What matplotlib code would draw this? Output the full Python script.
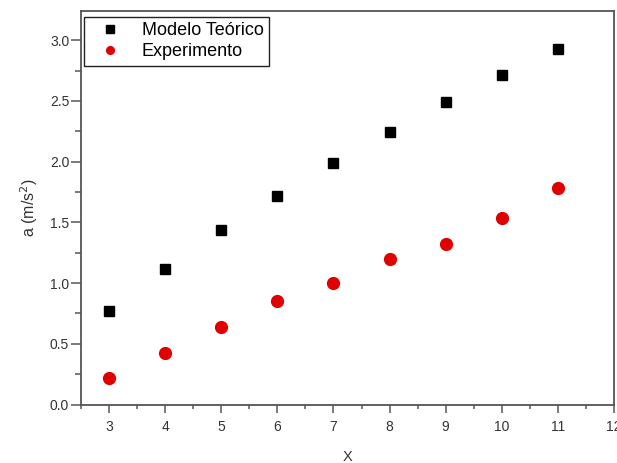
import matplotlib
matplotlib.use("Agg")
import matplotlib.pyplot as plt
from matplotlib.ticker import MultipleLocator

plt.rcParams['font.family'] = ['Liberation Sans', 'DejaVu Sans']

# data
x_vals = [3, 4, 5, 6, 7, 8, 9, 10, 11]
modelo = [0.77, 1.115, 1.435, 1.72, 1.985, 2.245, 2.49, 2.715, 2.925]
experimento = [0.215, 0.42, 0.64, 0.855, 0.997, 1.195, 1.32, 1.532, 1.78]

W, H = 617, 463
fig = plt.figure(figsize=(W / 100, H / 100), dpi=100)
ax = fig.add_axes([81 / W, 1 - 404.5 / H, (614 - 81) / W, (404.5 - 11) / H])

ax.plot(x_vals, modelo, 's', color='black', markersize=7.8, label='Modelo Teórico')
ax.plot(x_vals, experimento, 'o', color='#e00000', markersize=8.5, label='Experimento')

ax.set_xlim(2.5, 12)
ax.set_ylim(0, 3.24)
ax.xaxis.set_major_locator(MultipleLocator(1))
ax.xaxis.set_minor_locator(MultipleLocator(0.5))
ax.yaxis.set_major_locator(MultipleLocator(0.5))
ax.yaxis.set_minor_locator(MultipleLocator(0.25))
ax.yaxis.set_major_formatter(plt.FuncFormatter(lambda v, p: f'{v:.1f}'))

spine_c = '#555555'
for s in ax.spines.values():
    s.set_color(spine_c)
    s.set_linewidth(1.3)
ax.tick_params(which='both', direction='out', color=spine_c, width=1.1,
               labelsize=10, labelcolor='#333333', top=False, right=False)
ax.tick_params(axis='y', which='major', length=7, pad=1.5)
ax.tick_params(axis='y', which='minor', length=4)
ax.tick_params(axis='x', which='major', length=5.5, pad=6)
ax.tick_params(axis='x', which='minor', length=3)

ax.set_xlabel('X', fontsize=10.5, color='#333333', labelpad=11)
ax.set_ylabel('a (m/s$^2$)', fontsize=11.5, color='#333333', labelpad=7)

leg = ax.legend(loc='upper left', bbox_to_anchor=(0.005, 0.985), fontsize=13,
                frameon=True, fancybox=False, edgecolor='#222222', framealpha=1,
                markerscale=0.65, handletextpad=0.55, borderpad=0.28,
                labelspacing=0.25, handlelength=2.4, borderaxespad=0)
leg.get_frame().set_linewidth(1.0)

fig.savefig('out.png', dpi=100)
